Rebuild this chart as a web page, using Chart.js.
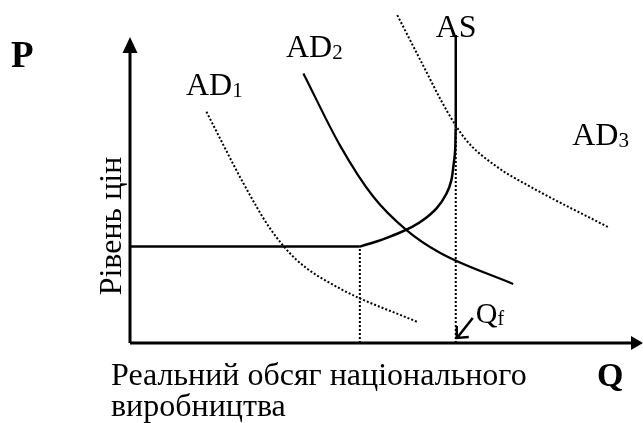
<!DOCTYPE html>
<html>
<head>
<meta charset="utf-8">
<script src="https://cdn.jsdelivr.net/npm/chart.js@4.4.0/dist/chart.umd.min.js"></script>
<style>
html, body { margin: 0; padding: 0; background: #fff; }
#wrap { width: 643px; height: 423px; }
</style>
</head>
<body>
<div id="wrap"><canvas id="chart"></canvas></div>
<script>
// Real output Q (x) and price level P (y), arbitrary units 0..100
// AS: flat (Keynesian) part, rising part, vertical (classical) part
var asFlatQ = [0, 44.8]
var asFlatP = [28.1, 28.1]
var asCurveQ = [44.8, 50.7, 57.2, 61.7, 63.2, 63.5]
var asCurveP = [28.1, 31.0, 35.9, 43.6, 53.4, 62.6]
var asVertQ = [63.5, 63.5]
var asVertP = [62.6, 89.8]

var ad1Q = [14.9, 22.1, 27.3, 32.5, 40.9, 55.9]
var ad1P = [67.4, 46.6, 33.4, 24.2, 15.9, 6.2]
var ad2Q = [33.8, 40.9, 47.4, 53.9, 60.4, 74.7]
var ad2P = [78.6, 57.7, 42.7, 32.9, 26.3, 17.2]
var ad3Q = [52.1, 56.9, 61.8, 65.5, 71.5, 78.0, 93.3]
var ad3P = [95.6, 81.6, 67.6, 59.2, 51.4, 45.6, 33.7]

// guide lines down to the Q axis
var guide1Q = [44.8, 44.8]
var guide1P = [0, 28.1]
var guideFQ = [63.5, 63.5]
var guideFP = [0, 62.6]

var curveNames = ["AD", "AD", "AS", "AD"]
var curveSubs = ["1", "2", "", "3"]

function pts(xs, ys) {
    return xs.map(function(x, i) { return {x: x, y: ys[i]} })
}

// curve: "straight", "spline" or "monotone"
function line(label, xs, ys, dotted, width, curve) {
    return {
        label: label,
        data: pts(xs, ys),
        showLine: true,
        borderColor: "#000",
        borderWidth: width,
        borderDash: dotted ? [2, 2] : [],
        pointRadius: 0,
        fill: false,
        cubicInterpolationMode: curve == "monotone" ? "monotone" : "default",
        tension: curve == "spline" ? 0.4 : 0
    }
}

var SERIF = "'Liberation Serif', 'Times New Roman', serif"

function labelAt(ctx, main, sub, x, y, size) {
    ctx.font = size + "px " + SERIF
    ctx.fillText(main, x, y)
    var w = ctx.measureText(main).width
    if (sub) {
        ctx.font = Math.round(size * 0.66) + "px " + SERIF
        ctx.fillText(sub, x + w, y + 2)
    }
}

var drawExtras = {
    id: "drawExtras",
    afterDatasetsDraw: function(chart) {
        var ctx = chart.ctx
        var sx = chart.scales.x, sy = chart.scales.y
        var ox = sx.getPixelForValue(0), oy = sy.getPixelForValue(0)
        var topY = sy.getPixelForValue(89.2)
        var endX = sx.getPixelForValue(100)
        ctx.save()
        ctx.strokeStyle = "#000"
        ctx.fillStyle = "#000"
        ctx.lineWidth = 3
        ctx.setLineDash([])
        // axes
        ctx.beginPath()
        ctx.moveTo(ox, oy)
        ctx.lineTo(ox, topY + 12)
        ctx.moveTo(ox, oy)
        ctx.lineTo(endX - 10, oy)
        ctx.stroke()
        ctx.beginPath()
        ctx.moveTo(ox, topY)
        ctx.lineTo(ox - 7.5, topY + 16)
        ctx.lineTo(ox + 7.5, topY + 16)
        ctx.closePath()
        ctx.fill()
        ctx.beginPath()
        ctx.moveTo(endX, oy)
        ctx.lineTo(endX - 12, oy - 7)
        ctx.lineTo(endX - 12, oy + 7)
        ctx.closePath()
        ctx.fill()

        // curve labels
        ctx.textBaseline = "alphabetic"
        ctx.textAlign = "left"
        var anchors = [[10.9, 72.3], [30.4, 83.4], [59.6, 89.2], [86.2, 57.7]]
        curveNames.forEach(function(n, i) {
            labelAt(ctx, n, curveSubs[i], sx.getPixelForValue(anchors[i][0]), sy.getPixelForValue(anchors[i][1]), 32)
        })

        // Qf with arrow to the axis
        var qx = sx.getPixelForValue(guideFQ[0])
        labelAt(ctx, "Q", "f", qx + 20, oy - 20, 30)
        ctx.lineWidth = 2.5
        ctx.beginPath()
        ctx.moveTo(qx + 17, oy - 25)
        ctx.lineTo(qx + 2, oy - 6)
        ctx.moveTo(qx + 1, oy - 17)
        ctx.lineTo(qx + 1, oy - 5)
        ctx.lineTo(qx + 13, oy - 6)
        ctx.stroke()

        // axis letters
        ctx.font = "bold 37px " + SERIF
        ctx.fillText("P", 11, 67)
        ctx.font = "bold 34px " + SERIF
        ctx.fillText("Q", 597, 386)

        // axis titles
        ctx.font = "32px " + SERIF
        ctx.fillText("Реальний обсяг національного", 111, 385)
        ctx.fillText("виробництва", 111, 416)
        ctx.translate(121, 226)
        ctx.rotate(-Math.PI / 2)
        ctx.textAlign = "center"
        ctx.fillText("Рівень цін", 0, 0)
        ctx.restore()
    }
}

new Chart(document.getElementById("chart"), {
    type: "scatter",
    data: {
        datasets: [
            line("AS", asFlatQ, asFlatP, false, 2.5, "straight"),
            line("AS", asCurveQ, asCurveP, false, 2.5, "spline"),
            line("AS", asVertQ, asVertP, false, 2.5, "straight"),
            line("AD1", ad1Q, ad1P, true, 2, "monotone"),
            line("AD2", ad2Q, ad2P, false, 2.2, "monotone"),
            line("AD3", ad3Q, ad3P, true, 2, "monotone"),
            line("", guide1Q, guide1P, true, 2, "straight"),
            line("", guideFQ, guideFP, true, 2, "straight")
        ]
    },
    options: {
        responsive: true,
        maintainAspectRatio: false,
        animation: false,
        layout: { padding: { left: 130, right: 0, top: 0, bottom: 80 } },
        plugins: { legend: { display: false }, tooltip: { enabled: false } },
        scales: {
            x: { type: "linear", min: 0, max: 100, display: false },
            y: { type: "linear", min: 0, max: 100, display: false }
        }
    },
    plugins: [drawExtras]
})
</script>
</body>
</html>
